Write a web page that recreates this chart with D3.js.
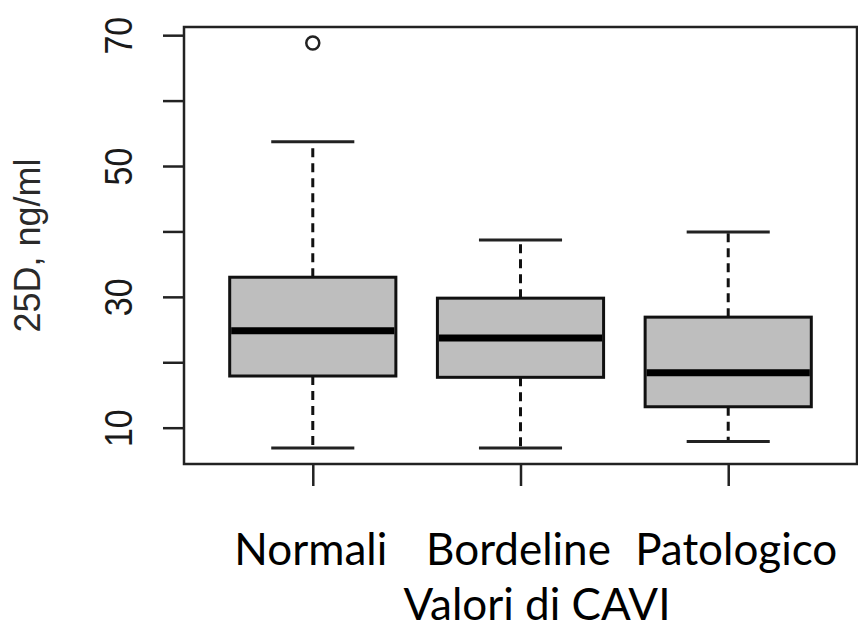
<!DOCTYPE html>
<html>
  <head>
    <meta charset="utf-8">
    <title></title>
    <style>
      body, html{
        margin: 0;
        width: 100%;
        height: 100%;
        background: #fff;
      }
      svg{ display: block; }
      .yaxis text{ font-family: "Liberation Sans", Arial, sans-serif; font-size: 34px; fill: #1a1a1a; }
      .ylab{ font-family: "Liberation Sans", Arial, sans-serif; font-size: 36px; fill: #2a2a2a; }
      .xlab{ font-family: Lato, "Open Sans", sans-serif; font-size: 44px; fill: #000; }
    </style>
  </head>
  <body>
    <div id="chart"></div>
    <script src="https://cdn.jsdelivr.net/npm/d3@7"></script>
    <script>

var categories = ['Normali', 'Bordeline', 'Patologico']
var lowerWhisker = [6.9, 6.9, 7.9]
var q1 = [17.9, 17.7, 13.2]
var median = [24.8, 23.7, 18.4]
var q3 = [33.0, 29.8, 26.9]
var upperWhisker = [53.7, 38.7, 39.9]
var outliers = [[68.8], [], []]
var yTicks = [10, 20, 30, 40, 50, 60, 70]
var yTickLabels = [10, 30, 50, 70]

var width = 858, height = 629
var plotL = 184, plotR = 857, plotT = 27, plotB = 464

var svg = d3.select('#chart').append('svg').attr('width', width).attr('height', height)

// R style: xlim 0.5..n+0.5 plus 4% each side
var x = d3.scaleLinear().domain([0.38, 3.62]).range([plotL, plotR])
var y = d3.scaleLinear().domain([4.45, 71.25]).range([plotB, plotT])

var boxes = categories.map(function(c, i){
  return { name: c, pos: i + 1, lo: lowerWhisker[i], q1: q1[i], med: median[i], q3: q3[i], hi: upperWhisker[i], out: outliers[i] }
})

var g = svg.append('g')

// whiskers (dashed)
g.selectAll('line.wlo').data(boxes).enter().append('line')
  .attr('x1', function(d){ return x(d.pos) }).attr('x2', function(d){ return x(d.pos) })
  .attr('y1', function(d){ return y(d.q1) }).attr('y2', function(d){ return y(d.lo) })
  .attr('stroke', '#111').attr('stroke-width', 3).attr('stroke-dasharray', '9,6')
g.selectAll('line.whi').data(boxes).enter().append('line')
  .attr('x1', function(d){ return x(d.pos) }).attr('x2', function(d){ return x(d.pos) })
  .attr('y1', function(d){ return y(d.q3) }).attr('y2', function(d){ return y(d.hi) })
  .attr('stroke', '#111').attr('stroke-width', 3).attr('stroke-dasharray', '9,6')

// staples
;['lo', 'hi'].forEach(function(k){
  g.selectAll('line.cap' + k).data(boxes).enter().append('line')
    .attr('x1', function(d){ return x(d.pos - 0.2) }).attr('x2', function(d){ return x(d.pos + 0.2) })
    .attr('y1', function(d){ return y(d[k]) }).attr('y2', function(d){ return y(d[k]) })
    .attr('stroke', '#222').attr('stroke-width', 3)
})

// boxes
g.selectAll('rect.box').data(boxes).enter().append('rect')
  .attr('x', function(d){ return x(d.pos - 0.4) })
  .attr('width', x(1.4) - x(0.6))
  .attr('y', function(d){ return y(d.q3) })
  .attr('height', function(d){ return y(d.q1) - y(d.q3) })
  .attr('fill', '#bebebe').attr('stroke', '#111').attr('stroke-width', 3)

// medians
g.selectAll('line.med').data(boxes).enter().append('line')
  .attr('x1', function(d){ return x(d.pos - 0.4) + 1.5 }).attr('x2', function(d){ return x(d.pos + 0.4) - 1.5 })
  .attr('y1', function(d){ return y(d.med) }).attr('y2', function(d){ return y(d.med) })
  .attr('stroke', '#000').attr('stroke-width', 7)

// outliers
boxes.forEach(function(b){
  g.selectAll(null).data(b.out).enter().append('circle')
    .attr('cx', x(b.pos)).attr('cy', function(v){ return y(v) })
    .attr('r', 6.5).attr('fill', 'none').attr('stroke', '#222').attr('stroke-width', 2.5)
})

// frame
svg.append('rect').attr('x', plotL).attr('y', plotT)
  .attr('width', plotR - plotL).attr('height', plotB - plotT)
  .attr('fill', 'none').attr('stroke', '#222').attr('stroke-width', 2.5)

// y axis
var yAxis = svg.append('g').attr('class', 'yaxis')
  .attr('transform', 'translate(' + plotL + ',0)')
  .call(d3.axisLeft(y).tickValues(yTicks).tickSize(21)
    .tickFormat(function(d){ return yTickLabels.indexOf(d) >= 0 ? d : '' }))
yAxis.select('.domain').remove()
yAxis.selectAll('.tick line').attr('stroke', '#222').attr('stroke-width', 2.5)
yAxis.selectAll('.tick text')
  .attr('x', null).attr('dy', null)
  .attr('text-anchor', 'middle')
  .attr('transform', 'translate(-52,0) scale(1.15,1) rotate(-90)')

// x axis ticks
var xAxis = svg.append('g')
  .attr('transform', 'translate(0,' + plotB + ')')
  .call(d3.axisBottom(x).tickValues([1, 2, 3]).tickSize(22).tickFormat(''))
xAxis.select('.domain').remove()
xAxis.selectAll('.tick line').attr('stroke', '#222').attr('stroke-width', 2.5)

// category labels
svg.selectAll('text.xlab').data(boxes).enter().append('text')
  .attr('class', 'xlab')
  .attr('x', function(d){ return x(d.pos) + (d.pos === 3 ? 8 : -2) })
  .attr('y', 565)
  .attr('text-anchor', 'middle')
  .text(function(d){ return d.name })

svg.append('text').attr('class', 'xlab')
  .attr('x', 537).attr('y', 620).attr('text-anchor', 'middle')
  .text('Valori di CAVI')

svg.append('text').attr('class', 'ylab')
  .attr('transform', 'translate(40,' + (plotT + plotB) / 2 + ') rotate(-90)')
  .attr('text-anchor', 'middle')
  .text('25D, ng/ml')

    </script>
  </body>
</html>
